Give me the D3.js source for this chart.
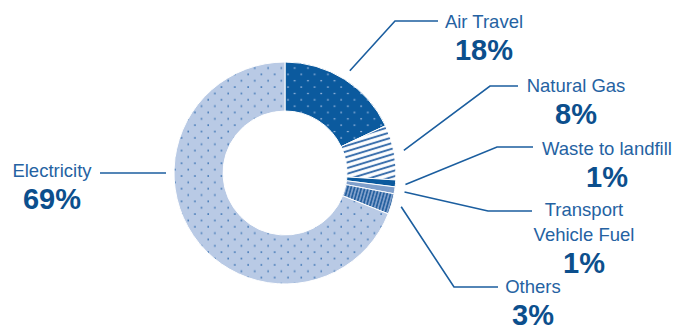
<!DOCTYPE html>
<html>
<head>
<meta charset="utf-8">
<script src="https://cdn.jsdelivr.net/npm/d3@7"></script>
<style>
  html, body { margin: 0; padding: 0; background: #fff; }
  svg { display: block; }
  text { font-family: "Liberation Sans", Arial, Helvetica, sans-serif; }
</style>
</head>
<body>
<svg id="chart" width="679" height="326"></svg>
<script>
// data
const categories = ['Air Travel', 'Natural Gas', 'Waste to landfill', 'Transport Vehicle Fuel', 'Others', 'Electricity'];
const shares = [18, 8, 1, 1, 3, 69];
const labelLines = [['Air Travel'], ['Natural Gas'], ['Waste to landfill'], ['Transport', 'Vehicle Fuel'], ['Others'], ['Electricity']];
const valueLabels = ['18%', '8%', '1%', '1%', '3%', '69%'];

// layout for callouts (label centre x, first baseline, elbow, end of leader)
const callouts = [
  { cx: 484, y: 28, elbow: [395, 21], end: [438, 21] },
  { cx: 576, y: 92, elbow: [490, 86], end: [518, 86] },
  { cx: 607, y: 155, elbow: [497, 147], end: [533, 147] },
  { cx: 584, y: 216, elbow: [488, 211], end: [532, 211] },
  { cx: 533, y: 293, elbow: [454, 287], end: [498, 287] },
  { cx: 52, y: 177, elbow: [166, 173], end: [100, 173], angle: -Math.PI / 2 }
];

const svg = d3.select('#chart');
const cx = 285, cy = 173;
const outerR = 111, innerR = 62;
const lineColor = '#1b5e9f';

const defs = svg.append('defs');

function dots(id, bg, fg, w, h) {
  const pw = 13.3, ph = 12.7;
  const p = defs.append('pattern').attr('id', id)
    .attr('patternUnits', 'userSpaceOnUse').attr('width', pw).attr('height', ph);
  p.append('rect').attr('width', pw).attr('height', ph).attr('fill', bg);
  [[3, 3], [3 + pw / 2, 3 + ph / 2]].forEach(([x, y]) => {
    p.append('rect').attr('x', x - w / 2).attr('y', y - h / 2)
      .attr('width', w).attr('height', h).attr('fill', fg);
  });
}
dots('airDots', '#0b5a9e', '#9fbbe0', 1.8, 1.2);
dots('elecDots', '#b9cae5', '#2a68ad', 1.2, 1.8);

const gas = defs.append('pattern').attr('id', 'gasStripes')
  .attr('patternUnits', 'userSpaceOnUse').attr('width', 10).attr('height', 5.4)
  .attr('patternTransform', 'rotate(-17)');
gas.append('rect').attr('width', 10).attr('height', 5.4).attr('fill', '#fff');
gas.append('line').attr('x1', 0).attr('x2', 10).attr('y1', 2.7).attr('y2', 2.7)
  .attr('stroke', '#3d71ad').attr('stroke-width', 2);

const oth = defs.append('pattern').attr('id', 'otherStripes')
  .attr('patternUnits', 'userSpaceOnUse').attr('width', 3.3).attr('height', 10)
  .attr('patternTransform', 'rotate(16)');
oth.append('rect').attr('width', 3.3).attr('height', 10).attr('fill', '#7f9fcb');
oth.append('line').attr('x1', 1.65).attr('x2', 1.65).attr('y1', 0).attr('y2', 10)
  .attr('stroke', '#235f9e').attr('stroke-width', 1.6);

const fills = ['url(#airDots)', 'url(#gasStripes)', '#0b5a9e', '#7f9fcb', 'url(#otherStripes)', 'url(#elecDots)'];

const pie = d3.pie().sort(null).value(d => d);
const arcs = pie(shares);
const arc = d3.arc().innerRadius(innerR).outerRadius(outerR);
const leaderArc = d3.arc().innerRadius(121).outerRadius(121);

const g = svg.append('g').attr('transform', `translate(${cx},${cy})`);
g.selectAll('path.slice')
  .data(arcs)
  .join('path')
  .attr('class', 'slice')
  .attr('d', arc)
  .attr('fill', (d, i) => fills[i])
  .attr('stroke', '#fff')
  .attr('stroke-width', 1);

// leader lines and labels
arcs.forEach((d, i) => {
  const c = callouts[i];
  let start;
  if (c.angle !== undefined) {
    start = c.elbow;
  } else {
    const p = leaderArc.centroid(d);
    start = [p[0] + cx, p[1] + cy];
  }
  svg.append('polyline')
    .attr('points', [start, c.elbow, c.end].map(p => p.join(',')).join(' '))
    .attr('fill', 'none')
    .attr('stroke', lineColor)
    .attr('stroke-width', 1.6);

  const lines = labelLines[i];
  lines.forEach((t, k) => {
    svg.append('text')
      .attr('x', c.cx).attr('y', c.y + k * 25)
      .attr('text-anchor', 'middle')
      .attr('font-size', 18.5)
      .attr('fill', '#2562a2')
      .text(t);
  });
  svg.append('text')
    .attr('x', c.cx).attr('y', c.y + (lines.length - 1) * 25 + 32)
    .attr('text-anchor', 'middle')
    .attr('font-size', 29)
    .attr('font-weight', 'bold')
    .attr('fill', '#0c4f8d')
    .text(valueLabels[i]);
});
</script>
</body>
</html>
